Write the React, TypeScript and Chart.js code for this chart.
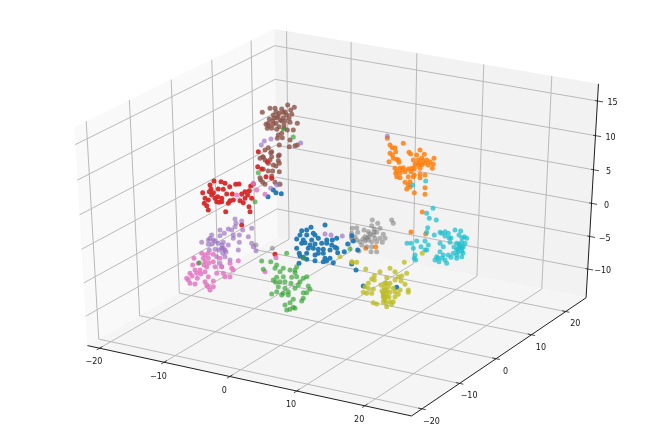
import React, { useEffect, useRef } from "react";
import { Chart, registerables } from "chart.js";

Chart.register(...registerables);

type Pt = [number, number];

// Axis limits and ticks of the 3D box
const xLim: Pt = [-21.9, 26.75];
const yLim: Pt = [-22.73, 26.07];
const zLim: Pt = [-14.48, 17.45];
const xTicks = [-20, -10, 0, 10, 20];
const yTicks = [-20, -10, 0, 10, 20];
const zTicks = [-10, -5, 0, 5, 10, 15];

// Series values in the projected view plane
const orange: Pt[] = [[387.3,138.3],[403.3,143.3],[390,145],[392.3,147.7],[395,147.7],[395.7,151.7],[390,153.3],[392.3,155],[409,152.3],[410.7,154],[420,150],[416.7,155],[424.3,154.3],[393.3,158.3],[396.7,159.3],[398.3,160],[389,161.7],[399,162.3],[413.3,160],[418.3,160],[421.7,158.3],[426.7,160],[434,158.3],[430,161.7],[433.3,164.3],[425,163.3],[418.3,165],[421.7,165],[395,168.3],[400,168.3],[403.3,167.7],[408.3,169],[411.7,168.3],[414.3,168.3],[420,168.3],[428.3,165],[432.3,168.3],[395.7,173.3],[400,173.3],[405,171.7],[411,171.7],[414.3,175],[396.7,176.7],[400,177.7],[408.3,176.7],[413.3,176.7],[420,174.3],[425,175],[410,181.7],[405,182.3],[408.3,185],[406.7,189],[410,186.7],[420,177.7],[414.3,192.7],[425,194.3],[425,187.7],[422.3,212],[411,232],[425.7,234],[365.7,248.3],[375.7,246.7],[423,161],[419,163],[415,164],[397,171],[402,170]];
const cyan: Pt[] = [[433,208.3],[426.7,213.3],[429.3,218.3],[436.3,220],[427.7,227.7],[426.7,232.3],[434.3,235],[445,231.7],[440,232.3],[455,230],[460.7,231],[448.3,233.3],[441.7,233.3],[459,235],[464.3,236.7],[466.7,238.3],[449,237.7],[425,241],[416.7,241],[407,243.3],[411,243.3],[421,246.7],[428.3,245],[440,243.3],[443.3,246.7],[450,242.3],[456.7,243.3],[461.7,242.3],[465,243.3],[413.3,248.3],[426.7,250],[458.3,248.3],[460,246.7],[456.7,250],[463.3,246.7],[440,251.7],[425,250],[415,255],[414.3,258.3],[415.7,260],[436.7,256.7],[443.3,255],[448.3,255],[451,257.3],[456.7,255],[461.7,256.7],[435,260],[439,261.7],[446.7,263.3],[456.7,258.3],[445,260],[453.3,253.3],[461.7,251],[412.7,185],[425.7,181],[459,244],[462,248],[458,252],[463,253],[454,247],[445,236],[451,238],[462,238],[438,258],[442,258]];
const brown: Pt[] = [[287.7,105],[294.3,107.3],[275,108.3],[270,108.3],[281.7,109],[290.7,110],[262.3,112.3],[276,111.7],[283.3,112.3],[279.3,113.3],[291.7,114.3],[273.3,115],[286.7,115],[269.3,119],[283.3,117.7],[276.7,117.7],[289,118.3],[280,120],[272.7,121],[266,124.3],[268.3,123.3],[276,123.3],[281.7,121],[285,121],[297.3,123.3],[290,122.3],[267.3,128.3],[273.3,124.3],[279,126.7],[284.3,128.3],[276.7,129.3],[271.7,128.3],[293.3,130],[287.3,130],[278.3,135],[281.7,133.3],[277.3,138.3],[282.3,137.7],[290,140],[279.3,145],[289.3,146.7],[295,145.7],[297.3,145],[268.3,147.7],[265,150],[271.7,151.7],[260,158.3],[262.7,156.7],[271.7,156.7],[279.3,155],[265,160],[270,160],[278.3,160.7],[273.3,165],[279.3,163.3],[268.3,171],[272.7,171],[279.3,171.7],[260,177.7],[262.7,182.3],[260.7,180],[265,184.3],[275,182.3],[280,184.3],[263.3,157.3],[270.7,152.7],[278.3,156],[276,166],[271.7,176],[268.3,163.3],[263.3,169.3],[285,112],[278,116],[284,125],[274,118],[269,126]];
const red: Pt[] = [[214,181],[221,181.7],[225,183.3],[210,185],[235.7,184.3],[239,184],[229.7,186.7],[253.3,184],[250.7,186],[211,189],[218.3,189],[223.3,189.3],[202.7,192.7],[209.3,191.7],[213.3,192.7],[226.7,194],[232.3,194],[245,191.7],[249.3,190.7],[205,198.3],[211.7,195],[217.7,196.7],[221.7,198.3],[241.7,194],[247.7,195],[245,198.3],[251.7,198.3],[216.7,201.7],[208.3,200],[204.3,203.3],[219,202.3],[230,200.7],[233.3,200],[240,200.7],[243.3,202.7],[206.7,205.7],[208.3,210],[221.7,201.7],[225.7,211.7],[249,206.7],[250,211.7],[228.3,203.3],[215,198.3],[258.3,151.7],[267.3,161.7],[257.7,166.7],[261.7,169],[266,176.7],[271.7,178.3],[275,254.3],[241.7,225]];
const gray: Pt[] = [[391.7,220],[393.3,223.3],[372.3,220],[377.7,223.3],[371.7,225.7],[352.3,228.3],[356.7,227.7],[364,230],[374.3,229],[380,228.3],[368.3,231.7],[376.7,232.3],[383.3,234.3],[385,238.3],[380,238.3],[373.3,235],[351.7,233.3],[357.7,232.3],[355,236.7],[365,236.7],[369,236.7],[375,238.3],[351.7,238.3],[368.3,240],[356.7,240],[360,241.7],[365,241],[371.7,241.7],[376.7,241.7],[382.3,242.3],[366.7,246.7],[361.7,245],[371.7,246.7],[376.7,251.7],[359,251],[371,251.7],[256,245],[279.3,184],[272.3,248.3],[370,234],[374,232],[367,238],[363,239]];
const blue: Pt[] = [[325,225],[311,227.3],[306.7,230],[301.7,230.7],[313.3,233.3],[306.7,235],[315,235],[300,235],[296.7,239],[303.3,240],[311.7,240],[318.3,238.3],[326.7,240],[332.3,240],[336.7,238.3],[296.7,248.3],[301.7,243.3],[305,242.7],[310,245],[315,244],[321.7,243.3],[326.7,243.3],[331.7,245],[336.7,248.3],[308.3,248.3],[313.3,248.3],[318.3,249.3],[323.3,249.3],[330,250],[335,247.3],[299.3,253.3],[300,256],[306.7,253.3],[315,255],[318.3,253.3],[323.3,253.3],[325,258.3],[330,258.3],[337.7,252.7],[344.3,251.7],[315,260.7],[323.3,261.7],[326.7,260.7],[333.3,262.7],[299,263.3],[306.7,259.3],[303.3,257.3],[351.7,235.7],[353.3,241],[347.7,244],[357.7,250],[351.7,264],[356,270],[363.3,286],[396.7,287.3],[276,192.7],[281.3,193.7],[268,196.7],[273.3,190]];
const purple: Pt[] = [[235,219],[236,223.3],[241.7,221],[228.3,229],[220,230],[224.3,233.3],[231.7,230],[235,226.7],[251.7,228.3],[242.7,230],[233.3,235],[211.7,235],[210,238.3],[201.7,242.3],[208.3,240],[213.3,240],[220,235.7],[239.3,235],[233.3,238.3],[248.3,236.7],[208.3,244.3],[215,241],[218.3,243.3],[223.3,242.3],[239.3,242.3],[251.7,243.3],[253.3,246.7],[209.3,250],[215,249.3],[223.3,248.3],[228.3,245],[238.3,250],[222.7,253.3],[225,256.7],[216.7,256.7],[230,260],[220,263.3],[221.7,266.7],[221.7,248.3],[225,250],[325,234],[331,235],[342.3,236],[256,250.7],[387.3,136],[264.3,141],[271,139],[261.3,145],[300.7,143],[276.7,185],[270.7,188.3],[212,244],[226,252],[219,250],[222,245]];
const pink: Pt[] = [[194,258.3],[201.7,253.3],[205,255],[208.3,253.3],[213.3,254.3],[203.3,258.3],[208.3,258.3],[192.7,265],[198.3,263.3],[205,261.7],[213.3,261.7],[220,258.3],[238.3,260.7],[230,263.3],[195,270],[200,270],[206.7,266.7],[215,266.7],[221.7,266.7],[231.7,268.3],[233.3,270],[190,273.3],[196.7,273.3],[205,271.7],[216.7,273.3],[223.3,273.3],[225,276.7],[186.7,278.3],[188.3,280],[197.3,278.3],[208.3,276.7],[230,276.7],[190,283.3],[195,284],[205,281.7],[213.3,281],[206.7,285],[208.3,286.7],[210,290],[213.3,286.7],[253.3,183.3],[256.7,190],[236.7,195],[265,194.3],[276,257.7],[265,271.7],[204,265],[209,263],[201,274],[192,276]];
const olive: Pt[] = [[404.3,262.3],[390,268.3],[395,271.7],[406.7,273.3],[365.7,269],[356.7,262.3],[352.3,262.3],[380,271.7],[374.3,275.7],[386.7,277.7],[398.3,276.7],[401.7,276],[371.7,279],[368.3,283.3],[374.3,280],[395,280],[401,281],[405,284.3],[390,283.3],[385,283.3],[388.3,286.7],[365,286.7],[368.3,288.3],[373.3,289],[393.3,288.3],[385,290],[363.3,292.3],[366.7,293.3],[371.7,293.3],[383.3,293.3],[390,292.3],[395,291.7],[400,290],[408.3,290],[408.3,292.3],[398.3,294.3],[383.3,296.7],[386.7,296.7],[395,296.7],[385,300],[390,301.7],[393.3,301.7],[373.3,302.7],[376.7,304],[386.7,306.7],[391.7,304.3],[383.3,301.7],[383.3,295],[422.3,253.3],[340,256.7],[351.7,261.7],[386,283],[384,287],[387,291],[382,291],[386,294],[389,297],[384,298],[381,285],[386,303]];
const green: Pt[] = [[261.7,261],[286.7,253.3],[303.3,258.3],[270.7,261.7],[263.3,269.3],[283.3,268.3],[276.7,265],[275,268.3],[296.7,266.7],[295,270],[280,271.7],[290,270],[295,272.7],[276.7,277.3],[283.3,276.7],[291.7,277.3],[296.7,276.7],[303.3,278.3],[306.7,276.7],[273.3,280],[275.7,282.3],[280,281.7],[285,281.7],[291,283.3],[298.3,285],[300,281.7],[308.3,286],[278.3,286.7],[285,288.3],[295,288.3],[310,289.3],[276.7,291.7],[271.7,294],[283.3,293.3],[288.3,291.7],[303.3,292.7],[306.7,292.7],[293.3,299.3],[303.3,298.3],[301.7,301],[285,305],[290,302.7],[293.3,307.3],[290,309.3],[286.7,310],[295,308.3],[281.7,295],[288.3,295],[199.3,262.7],[350,249],[283.3,129],[293.3,137],[258.3,172.7],[255,201.7]];

const seriesTopFirst: [Pt[], string][] = [
  [green, "rgba(44,160,44,0.65)"],
  [olive, "rgba(188,189,34,0.78)"],
  [pink, "rgba(227,119,194,0.85)"],
  [purple, "rgba(148,103,189,0.62)"],
  [blue, "rgba(31,119,180,0.95)"],
  [gray, "rgba(127,127,127,0.58)"],
  [red, "rgba(214,39,40,0.95)"],
  [brown, "rgba(140,86,75,0.82)"],
  [cyan, "rgba(23,190,207,0.72)"],
  [orange, "rgba(255,127,14,0.85)"],
];

// matplotlib's default 3D view: elev 30, azim -60, dist 10
function project(x: number, y: number, z: number): { x: number; y: number } {
  const qx = (x - xLim[0]) / (xLim[1] - xLim[0]) - 0.5;
  const qy = (y - yLim[0]) / (yLim[1] - yLim[0]) - 0.5;
  const qz = (z - zLim[0]) / (zLim[1] - zLim[0]) - 0.5;
  const c30 = Math.cos(Math.PI / 6);
  const un = 0.866025 * qx + 0.5 * qy;
  const vn = -0.25 * qx + 0.433013 * qy + c30 * qz;
  const w = 10 - (0.433013 * qx - 0.75 * qy + 0.5 * qz);
  return { x: 340.6 + (3741 * un) / w, y: 215.9 - (2495 * vn) / w };
}

const [x0, x1] = xLim;
const [y0, y1] = yLim;
const [z0, z1] = zLim;

function line(points: { x: number; y: number }[], color: string, width: number) {
  return {
    type: "line" as const,
    data: points,
    showLine: true,
    borderColor: color,
    borderWidth: width,
    pointRadius: 0,
    fill: false,
    tension: 0,
    clip: false as const,
  };
}

const GRID = "rgb(186,186,186)";
const AXIS = "rgb(30,30,30)";

const gridLines = [
  ...xTicks.map((t) => line([project(t, y0, z0), project(t, y1, z0), project(t, y1, z1)], GRID, 1)),
  ...yTicks.map((t) => line([project(x1, t, z0), project(x0, t, z0), project(x0, t, z1)], GRID, 1)),
  ...zTicks.map((t) => line([project(x0, y0, t), project(x0, y1, t), project(x1, y1, t)], GRID, 1)),
];
const axisLines = [
  line([project(x0, y0, z0), project(x1, y0, z0)], AXIS, 1),
  line([project(x1, y0, z0), project(x1, y1, z0)], AXIS, 1),
  line([project(x1, y1, z0), project(x1, y1, z1)], AXIS, 1),
  ...xTicks.map((t) => line([project(t, y0 - 0.7, z0), project(t, y0 + 0.7, z0)], AXIS, 0.8)),
  ...yTicks.map((t) => line([project(x1 - 0.55, t, z0), project(x1 + 0.55, t, z0)], AXIS, 0.8)),
  ...zTicks.map((t) => line([project(x1 - 0.35, y1, t), project(x1 + 0.8, y1, t)], AXIS, 0.8)),
];

const panes: [{ x: number; y: number }[], string][] = [
  [[project(x0, y0, z0), project(x0, y1, z0), project(x0, y1, z1), project(x0, y0, z1)], "rgb(249,249,249)"],
  [[project(x0, y1, z0), project(x1, y1, z0), project(x1, y1, z1), project(x0, y1, z1)], "rgb(242,242,242)"],
  [[project(x0, y0, z0), project(x1, y0, z0), project(x1, y1, z0), project(x0, y1, z0)], "rgb(245,245,245)"],
];

const fmt = (v: number) => (v < 0 ? "\u2212" + Math.abs(v) : String(v));

const boxPlugin = {
  id: "box3d",
  beforeDatasetsDraw(chart: any) {
    const { ctx, scales } = chart;
    ctx.save();
    panes.forEach(([poly, color]) => {
      ctx.beginPath();
      poly.forEach((p, i) => {
        const px = scales.x.getPixelForValue(p.x);
        const py = scales.y.getPixelForValue(p.y);
        if (i === 0) ctx.moveTo(px, py);
        else ctx.lineTo(px, py);
      });
      ctx.closePath();
      ctx.fillStyle = color;
      ctx.fill();
    });
    ctx.restore();
  },
  afterDatasetsDraw(chart: any) {
    const { ctx, scales } = chart;
    ctx.save();
    ctx.font = "8px 'DejaVu Sans'";
    ctx.fillStyle = "rgb(20,20,20)";
    ctx.textAlign = "center";
    ctx.textBaseline = "middle";
    const put = (p: { x: number; y: number }, dx: number, dy: number, v: number) =>
      ctx.fillText(fmt(v), scales.x.getPixelForValue(p.x) + dx, scales.y.getPixelForValue(p.y) + dy);
    xTicks.forEach((t) => put(project(t, y0, z0), -5.6, 14.2, t));
    yTicks.forEach((t) => put(project(x1, t, z0), 9.5, 12.8, t));
    zTicks.forEach((t) => put(project(x1, y1, t), 15, 2.2, t));
    ctx.restore();
  },
};

export default function App() {
  const ref = useRef<HTMLCanvasElement | null>(null);
  useEffect(() => {
    if (!ref.current) return;
    const scatter = seriesTopFirst.map(([pts, color]) => ({
      type: "scatter" as const,
      data: pts.map(([x, y]) => ({ x, y })),
      backgroundColor: color,
      borderWidth: 0,
      pointRadius: 2.5,
      clip: false as const,
    }));
    const chart = new Chart(ref.current, {
      type: "scatter",
      data: { datasets: [...scatter, ...axisLines, ...gridLines] as any },
      options: {
        animation: false,
        responsive: false,
        layout: { padding: 0, autoPadding: false },
        plugins: { legend: { display: false }, tooltip: { enabled: false }, title: { display: false } },
        scales: {
          x: { type: "linear", min: 0, max: 664, display: false },
          y: { type: "linear", min: 0, max: 443, reverse: true, display: false },
        },
      },
      plugins: [boxPlugin],
    });
    return () => chart.destroy();
  }, []);
  return (
    <div style={{ position: "fixed", left: 0, top: 0, width: 664, height: 443, background: "#fff" }}>
      <canvas ref={ref} width={664} height={443} style={{ display: "block" }} />
    </div>
  );
}
